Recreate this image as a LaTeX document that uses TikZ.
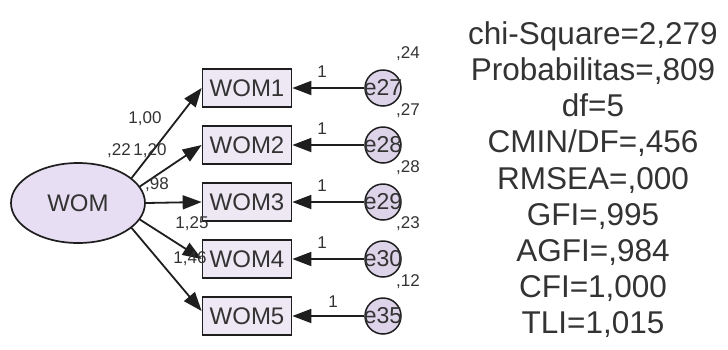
\documentclass[tikz,border=0pt]{standalone}
\usepackage{fontspec}
\setmainfont{Liberation Sans}
\usetikzlibrary{shapes.geometric,arrows.meta,calc}
\definecolor{linec}{HTML}{1E1E1E}
\definecolor{txtc}{HTML}{333333}
\definecolor{latfill}{HTML}{E8DEF3}
\definecolor{obsfill}{HTML}{EEE8F5}
\definecolor{errfill}{HTML}{DED4EA}
\tikzset{
  latent/.style={ellipse, draw=linec, line width=1.7pt, fill=latfill, minimum width=134pt, minimum height=80pt, inner sep=0pt, text=txtc, font=\fontsize{24}{26}\selectfont},
  obs/.style={rectangle, draw=linec, line width=1.7pt, fill=obsfill, minimum width=89pt, minimum height=38pt, inner sep=0pt, text=txtc, font=\fontsize{24}{26}\selectfont},
  err/.style={circle, draw=linec, line width=1.5pt, fill=errfill, minimum size=36pt, inner sep=0pt},
  etext/.style={text=txtc, font=\fontsize{23}{24}\selectfont, inner sep=0pt},
  arr/.style={draw=linec, line width=1.8pt, -{Triangle[length=19pt,width=14pt]}},
  lab/.style={text=txtc, font=\fontsize{17}{18}\selectfont, inner sep=0pt},
  fitline/.style={text=txtc, font=\fontsize{31.5}{36}\selectfont, inner sep=0pt, anchor=base},
}
\begin{document}
\begin{tikzpicture}[x=1pt,y=-1pt]
\useasboundingbox (0,0) rectangle (728,349);
\fill[white] (0,0) rectangle (728,349);

% latent variable
\node[latent] (wom) at (78,203) {WOM};

% observed variables
\node[obs] (w1) at (247,88) {WOM1};
\node[obs] (w2) at (247,145) {WOM2};
\node[obs] (w3) at (247,202) {WOM3};
\node[obs] (w4) at (247,259) {WOM4};
\node[obs] (w5) at (247,316) {WOM5};

% error terms
\node[err, label={[etext]center:e27}] (e27) at (383,88) {};
\node[err, label={[etext]center:e28}] (e28) at (383,145) {};
\node[err, label={[etext]center:e29}] (e29) at (383,202) {};
\node[err, label={[etext]center:e30}] (e30) at (383,259) {};
\node[err, label={[etext]center:e35}] (e35) at (383,316) {};

% loadings
\draw[arr] (wom.25) -- (w1.west);
\draw[arr] (wom.15) -- (w2.west);
\draw[arr] (wom.0) -- (w3.west);
\draw[arr] (wom.-15) -- (w4.west);
\draw[arr] (wom.-25) -- ($(w5.west)+(0,-5)$);

% error paths
\draw[arr] (e27) -- (w1);
\draw[arr] (e28) -- (w2);
\draw[arr] (e29) -- (w3);
\draw[arr] (e30) -- (w4);
\draw[arr] (e35) -- (w5);

% labels of loadings
\node[lab] (l1) at (145,119) {1,00};
\node[lab] (v0) at (119,151) {,22};
\node[lab] (l2) at (150,151) {1,20};
\node[lab] (l3) at (157,185) {,98};
\node[lab] (l4) at (192,224) {1,25};
\node[lab] (l5) at (190,259) {1,46};

% labels of error paths
\node[lab] (o1) at (322,72) {1};
\node[lab] (o2) at (322,129) {1};
\node[lab] (o3) at (322,186) {1};
\node[lab] (o4) at (322,243) {1};
\node[lab] (o5) at (333,302) {1};

% error variances
\node[lab] (v1) at (408,54) {,24};
\node[lab] (v2) at (408,111) {,27};
\node[lab] (v3) at (408,168) {,28};
\node[lab] (v4) at (408,224) {,23};
\node[lab] (v5) at (408,282) {,12};

% fit indices
\node[fitline] (f1) at (593,44) {chi-Square=2,279};
\node[fitline] (f2) at (593,80) {Probabilitas=,809};
\node[fitline] (f3) at (593,116) {df=5};
\node[fitline] (f4) at (593,152) {CMIN/DF=,456};
\node[fitline] (f5) at (593,189) {RMSEA=,000};
\node[fitline] (f6) at (593,225) {GFI=,995};
\node[fitline] (f7) at (593,261) {AGFI=,984};
\node[fitline] (f8) at (593,297) {CFI=1,000};
\node[fitline] (f9) at (593,333) {TLI=1,015};
\end{tikzpicture}
\end{document}
